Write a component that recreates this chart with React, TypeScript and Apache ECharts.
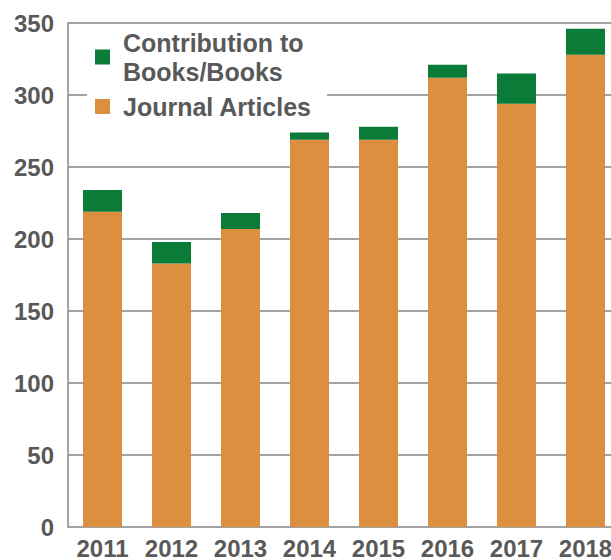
import React, { useEffect, useRef } from "react";
import * as echarts from "echarts";

const categories = ["2011", "2012", "2013", "2014", "2015", "2016", "2017", "2018"];
const journalArticles = [219, 183, 207, 269, 269, 312, 294, 328];
const booksContrib = [15, 15, 11, 5, 9, 9, 21, 18];
const yTicks = { min: 0, max: 350, interval: 50 };

const GREEN = "#0B7B38";
const ORANGE = "#DC8F3F";
const TEXT = "#595959";
const AXIS = "#A3A3A3";

export default function App() {
  const ref = useRef<HTMLDivElement>(null);
  useEffect(() => {
    if (!ref.current) return;
    const chart = echarts.init(ref.current, undefined, { renderer: "svg" });
    chart.setOption({
      animation: false,
      backgroundColor: "#ffffff",
      textStyle: { fontFamily: "Liberation Sans, Arial, sans-serif" },
      grid: { left: 68, top: 23, bottom: 33, right: 20, containLabel: false },
      legend: {
        orient: "vertical",
        left: 87,
        top: 24,
        padding: [4, 15, 4, 8],
        backgroundColor: "#ffffff",
        icon: "rect",
        itemWidth: 15,
        itemHeight: 15,
        itemGap: 6,
        selectedMode: false,
        textStyle: {
          fontSize: 25,
          fontWeight: "bold",
          color: TEXT,
          lineHeight: 29,
          padding: [0, 0, 0, 8],
          fontFamily: "Liberation Sans, Arial, sans-serif",
        },
        data: ["Contribution to\nBooks/Books", "Journal Articles"],
      },
      xAxis: {
        type: "category",
        data: categories,
        axisLine: { show: true, lineStyle: { color: AXIS, width: 2 } },
        axisTick: { show: false },
        axisLabel: {
          fontSize: 24,
          fontWeight: "bold",
          color: TEXT,
          margin: 9,
          interval: 0,
        },
      },
      yAxis: {
        type: "value",
        min: yTicks.min,
        max: yTicks.max,
        interval: yTicks.interval,
        axisLine: { show: true, lineStyle: { color: AXIS, width: 2 } },
        axisTick: { show: false },
        splitLine: { show: true, lineStyle: { color: AXIS, width: 2 } },
        axisLabel: {
          fontSize: 24,
          fontWeight: "bold",
          color: TEXT,
          margin: 14,
        },
      },
      series: [
        {
          name: "Journal Articles",
          type: "bar",
          stack: "total",
          barWidth: 39,
          itemStyle: { color: ORANGE },
          data: journalArticles,
        },
        {
          name: "Contribution to\nBooks/Books",
          type: "bar",
          stack: "total",
          barWidth: 39,
          itemStyle: { color: GREEN },
          data: booksContrib,
        },
      ],
    });
    return () => chart.dispose();
  }, []);
  return (
    <div style={{ position: "fixed", left: 0, top: 0, width: 611, height: 560, overflow: "hidden" }}>
      <div ref={ref} style={{ width: 640, height: 560 }} />
    </div>
  );
}
